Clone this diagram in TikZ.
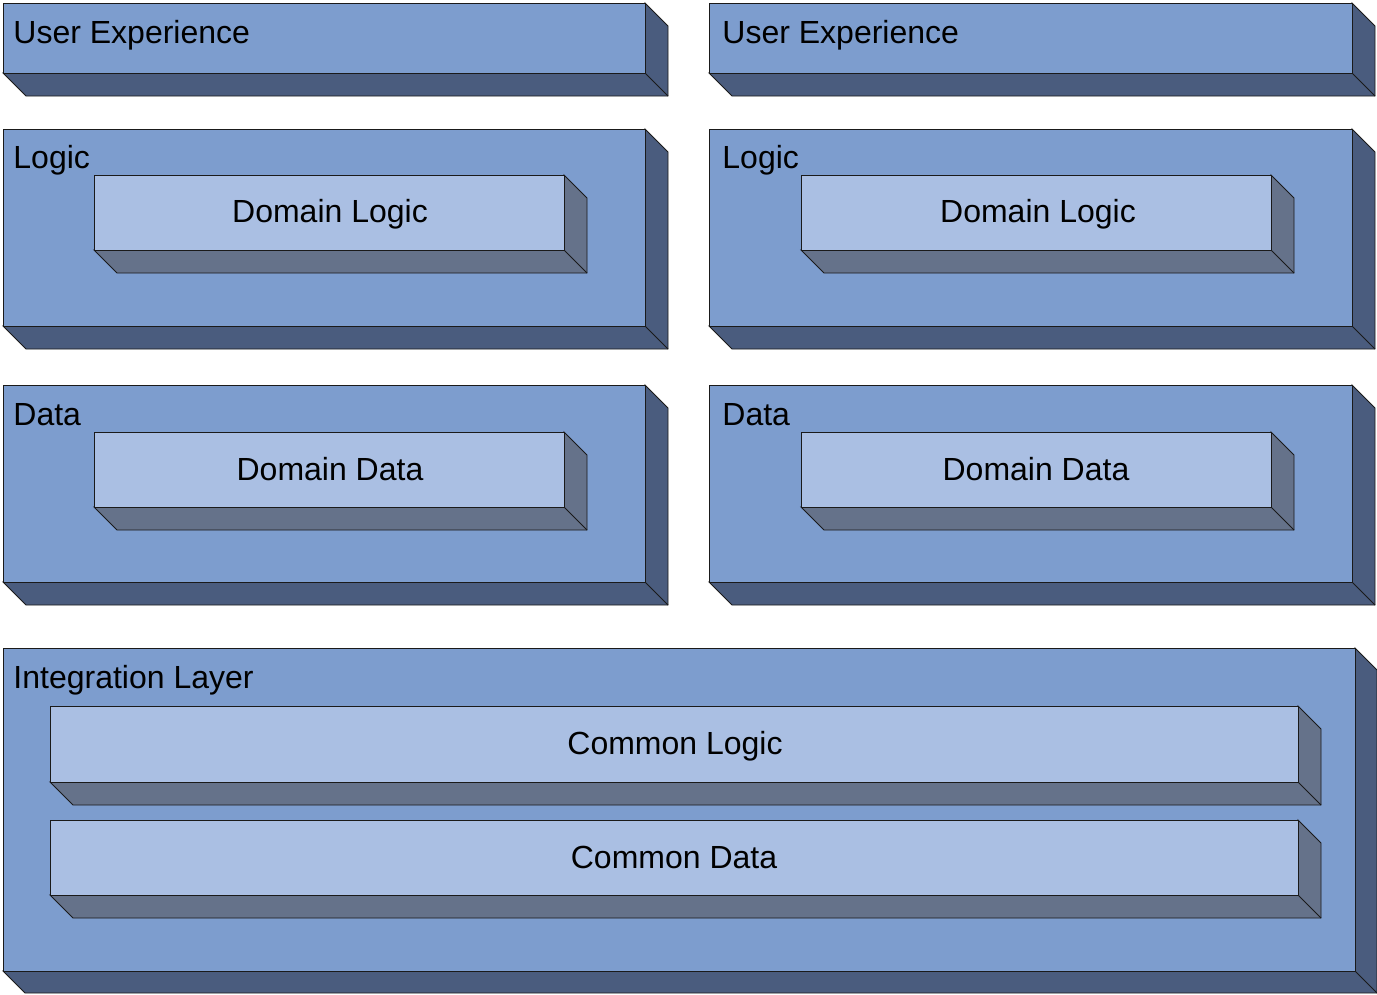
\documentclass[tikz,border=0pt]{standalone}
\usepackage{fontspec}
\setmainfont{Liberation Sans}
\definecolor{outerface}{HTML}{7D9DCE}
\definecolor{outerside}{HTML}{4A5C7E}
\definecolor{innerface}{HTML}{AABFE3}
\definecolor{innerside}{HTML}{65728A}
\definecolor{edgecol}{HTML}{1A1A1A}
% slab: x1, y1, x2, y2 (front face), face colour, side colour, depth
\newcommand{\slab}[7]{%
  \filldraw[fill=#6, draw=edgecol] (#3,#2) -- ++(#7,#7) -- (#3+#7,#4+#7) -- (#1+#7,#4+#7) -- (#1,#4) -- (#3,#4) -- cycle;
  \draw[edgecol] (#3,#4) -- ++(#7,#7);
  \filldraw[fill=#5, draw=edgecol] (#1,#2) rectangle (#3,#4);
}
\begin{document}
\begin{tikzpicture}[x=1pt,y=-1pt,line width=0.9pt]
        \tikzstyle{layer}=[anchor=base west,inner sep=0pt,font=\fontsize{32}{38}\selectfont]
        \tikzstyle{part}=[anchor=base,inner sep=0pt,font=\fontsize{32}{38}\selectfont]
        \useasboundingbox (0,0) rectangle (1377,994);
       \begin{scope}
         % left column
         \slab{3}{3}{645}{73}{outerface}{outerside}{23}
         \slab{3}{129}{645}{326}{outerface}{outerside}{23}
         \slab{94}{175}{564}{250}{innerface}{innerside}{23}
         \slab{3}{385}{645}{582}{outerface}{outerside}{23}
         \slab{94}{432}{564}{507}{innerface}{innerside}{23}
         % right column
         \slab{709}{3}{1352}{73}{outerface}{outerside}{23}
         \slab{709}{129}{1352}{326}{outerface}{outerside}{23}
         \slab{801}{175}{1271}{250}{innerface}{innerside}{23}
         \slab{709}{385}{1352}{582}{outerface}{outerside}{23}
         \slab{801}{432}{1271}{507}{innerface}{innerside}{23}
         % integration
         \slab{3}{648}{1355}{971}{outerface}{outerside}{22}
         \slab{50}{706}{1298}{782}{innerface}{innerside}{23}
         \slab{50}{820}{1298}{895}{innerface}{innerside}{23}
       \end{scope}
       \begin{scope}
         \node [layer] (ux1) at (13,43) {User Experience};
         \node [layer] (logic1) at (13,168) {Logic};
         \node [part] (dlogic1) at (330,222) {Domain Logic};
         \node [layer] (data1) at (13,425) {Data};
         \node [part] (ddata1) at (330,480) {Domain Data};
         \node [layer] (ux2) at (722,43) {User Experience};
         \node [layer] (logic2) at (722,168) {Logic};
         \node [part] (dlogic2) at (1038,222) {Domain Logic};
         \node [layer] (data2) at (722,425) {Data};
         \node [part] (ddata2) at (1036,480) {Domain Data};
         \node [layer] (integ) at (13,688) {Integration Layer};
         \node [part] (clogic) at (675,754) {Common Logic};
         \node [part] (cdata) at (674,868) {Common Data};
       \end{scope}
      \end{tikzpicture}
\end{document}
